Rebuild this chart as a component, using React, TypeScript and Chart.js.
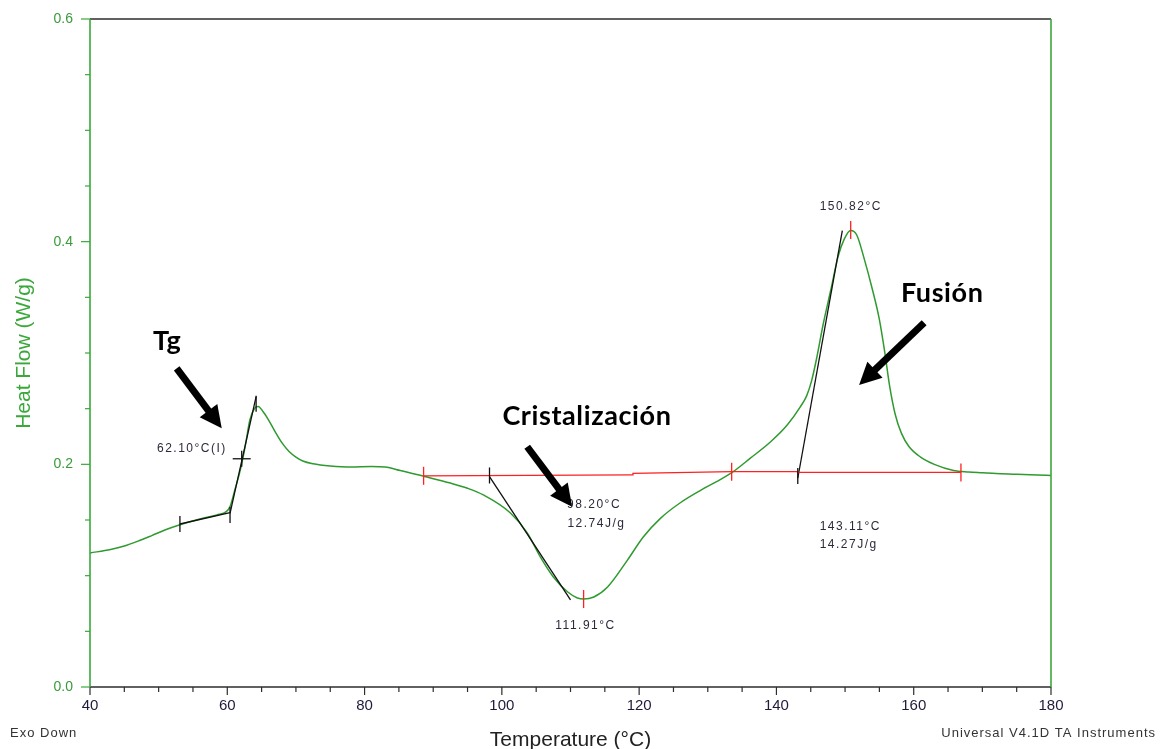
import { useEffect, useRef } from "react";
import { Chart, registerables } from "chart.js";

Chart.register(...registerables);

// DSC heating scan: temperature (°C) vs heat flow (W/g)
const temperature = [
  40.0, 43.0, 45.0, 47.0, 49.0, 51.0, 53.0, 56.0, 58.5, 59.9, 60.4, 61.1, 61.9, 62.6, 63.3, 64.0,
  64.5, 65.2, 66.0, 67.0, 68.0, 69.0, 70.0, 71.0, 72.5, 75.0, 78.0, 81.0, 83.0, 85.2, 88.6, 92.5,
  95.0, 97.3, 101.25, 103.7, 105.6, 107.5, 109.6, 111.0, 111.91, 113.4, 115.4, 118.3, 120.6, 123.1,
  126.0, 129.0, 131.5, 133.5, 136.2, 139.2, 141.6, 143.5, 144.4, 145.1, 145.8, 146.84, 147.92,
  148.98, 149.86, 150.82, 151.7, 152.7, 154.0, 155.0, 155.8, 156.5, 157.3, 158.2, 159.3, 161.0,
  163.0, 165.8, 168.0, 170.0, 172.0, 175.0, 178.0, 180.0,
];
const heatFlow = [
  0.1204, 0.1235, 0.1266, 0.131, 0.136, 0.1412, 0.1455, 0.1509, 0.1545, 0.1578, 0.162, 0.177, 0.195,
  0.216, 0.24, 0.2505, 0.252, 0.2475, 0.24, 0.229, 0.219, 0.2115, 0.2065, 0.203, 0.2005, 0.1985,
  0.1975, 0.198, 0.1975, 0.1945, 0.1893, 0.1832, 0.1785, 0.1725, 0.1563, 0.1383, 0.1168, 0.0988,
  0.0853, 0.08, 0.079, 0.0808, 0.0898, 0.114, 0.1347, 0.1515, 0.1655, 0.1768, 0.1852, 0.1925, 0.2055,
  0.2205, 0.2355, 0.2518, 0.2615, 0.2745, 0.2935, 0.3267, 0.3566, 0.3866, 0.402, 0.41, 0.406,
  0.3866, 0.3566, 0.33, 0.3, 0.27, 0.245, 0.228, 0.216, 0.2065, 0.2, 0.1945, 0.1932, 0.1925, 0.1918,
  0.1912, 0.1905, 0.19,
];

// Integration baselines (red)
const crystBaseT = [88.6, 119.0, 119.1, 133.48];
const crystBaseHF = [0.1897, 0.1905, 0.1918, 0.1934];
const meltBaseT = [133.48, 143.0, 143.1, 166.88];
const meltBaseHF = [0.1934, 0.1934, 0.1927, 0.1927];

// Tangent constructions (black)
const tgBaseT = [53.1, 60.4];
const tgBaseHF = [0.1464, 0.1566];
const tgSteepT = [60.4, 64.2];
const tgSteepHF = [0.156, 0.2608];
const crystTanT = [98.2, 110.0];
const crystTanHF = [0.189, 0.0782];
const meltTanT = [143.11, 149.6];
const meltTanHF = [0.1875, 0.41];

// Limit / peak markers
const redMarkT = [88.6, 133.48, 166.88, 111.91, 150.82];
const redMarkHF = [0.1897, 0.1934, 0.1927, 0.079, 0.4105];
const blackMarkT = [53.1, 60.4, 64.2, 98.2, 143.11];
const blackMarkHF = [0.1464, 0.1545, 0.2545, 0.19, 0.1895];
const inflectionT = 62.1;
const inflectionHF = 0.205;

// Result labels
const resultTexts = ["62.10°C(I)", "98.20°C", "12.74J/g", "111.91°C", "150.82°C", "143.11°C", "14.27J/g"];
const resultT = [59.93, 109.5, 109.55, 112.19, 150.83, 146.3, 146.3];
const resultHF = [0.2138, 0.1635, 0.1464, 0.0551, 0.4314, 0.144, 0.1275];
const resultAlign: CanvasTextAlign[] = ["right", "left", "left", "center", "center", "left", "left"];

// Transition names with arrows
const eventNames = ["Tg", "Cristalización", "Fusión"];
const eventNameT = [49.17, 100.08, 158.13];
const eventNameHF = [0.3027, 0.2353, 0.3458];
const arrowFromT = [52.63, 103.69, 161.52];
const arrowFromHF = [0.2862, 0.2158, 0.3272];
const arrowToT = [59.19, 110.24, 152.04];
const arrowToHF = [0.2324, 0.162, 0.2713];

const xTicks = [40, 60, 80, 100, 120, 140, 160, 180];
const yTicks = [0.0, 0.2, 0.4, 0.6];

const zip = (xs: number[], ys: number[]) => xs.map((v, i) => ({ x: v, y: ys[i] }));

const GREEN = "#2f9a2f";
const AXIS_GREEN = "#3aa83a";
const TEXT = "#2a2a3a";

const segment = (label: string, xs: number[], ys: number[], color: string) => ({
  label,
  data: zip(xs, ys),
  borderColor: color,
  borderWidth: 1.3,
  pointRadius: 0,
  tension: 0,
});

const decorations = {
  id: "decorations",
  afterDatasetsDraw(chart: any) {
    const { ctx, chartArea: a, scales } = chart;
    const x = scales.x;
    const y = scales.y;
    const px = (t: number) => x.getPixelForValue(t);
    const py = (v: number) => y.getPixelForValue(v);
    const line = (x1: number, y1: number, x2: number, y2: number) => {
      ctx.beginPath();
      ctx.moveTo(x1, y1);
      ctx.lineTo(x2, y2);
      ctx.stroke();
    };
    ctx.save();

    // frame
    ctx.lineWidth = 1.6;
    ctx.strokeStyle = "#2d2d2d";
    line(a.left, a.top, a.right, a.top);
    line(a.left, a.bottom, a.right, a.bottom);
    ctx.strokeStyle = AXIS_GREEN;
    line(a.left, a.top, a.left, a.bottom);
    line(a.right, a.top, a.right, a.bottom);

    // x tick marks (major every 20, minor every 5)
    ctx.lineWidth = 1.2;
    ctx.strokeStyle = "#2d2d2d";
    for (let t = 40; t <= 180; t += 5) {
      const len = t % 20 === 0 ? 8 : 5;
      line(px(t), a.bottom, px(t), a.bottom + len);
    }
    // y tick marks (major every 0.2, minor every 0.05)
    ctx.strokeStyle = AXIS_GREEN;
    for (let i = 0; i <= 12; i++) {
      const len = i % 4 === 0 ? 9 : 5;
      const yy = py(i * 0.05);
      line(a.left - len, yy, a.left, yy);
    }

    // markers
    ctx.lineWidth = 1.3;
    ctx.strokeStyle = "#ff2020";
    redMarkT.forEach((t, i) => {
      const cx = px(t);
      const cy = py(redMarkHF[i]);
      line(cx, cy - 9, cx, cy + 9);
    });
    ctx.strokeStyle = "#111";
    blackMarkT.forEach((t, i) => {
      const cx = px(t);
      const cy = py(blackMarkHF[i]);
      line(cx, cy - 8, cx, cy + 8);
    });
    const ix = px(inflectionT);
    const iy = py(inflectionHF);
    line(ix - 9, iy, ix + 9, iy);
    line(ix, iy - 8, ix, iy + 8);

    // result labels
    ctx.fillStyle = TEXT;
    ctx.font = '12px "Liberation Sans", Arial, sans-serif';
    ctx.textBaseline = "middle";
    (ctx as any).letterSpacing = "1.5px";
    resultTexts.forEach((s, i) => {
      ctx.textAlign = resultAlign[i];
      ctx.fillText(s, px(resultT[i]), py(resultHF[i]));
    });

    // arrows
    ctx.fillStyle = "#000";
    ctx.strokeStyle = "#000";
    arrowFromT.forEach((t, i) => {
      const x1 = px(t);
      const y1 = py(arrowFromHF[i]);
      const x2 = px(arrowToT[i]);
      const y2 = py(arrowToHF[i]);
      const ang = Math.atan2(y2 - y1, x2 - x1);
      const head = 22;
      const half = 11;
      const bx = x2 - head * Math.cos(ang);
      const by = y2 - head * Math.sin(ang);
      ctx.lineWidth = 7;
      ctx.lineCap = "butt";
      line(x1, y1, bx + 2 * Math.cos(ang), by + 2 * Math.sin(ang));
      ctx.beginPath();
      ctx.moveTo(x2, y2);
      ctx.lineTo(bx + half * Math.sin(ang), by - half * Math.cos(ang));
      ctx.lineTo(bx - half * Math.sin(ang), by + half * Math.cos(ang));
      ctx.closePath();
      ctx.fill();
    });

    // transition names
    (ctx as any).letterSpacing = "0.6px";
    ctx.font = 'bold 27px Lato, "Open Sans", sans-serif';
    ctx.textAlign = "left";
    ctx.textBaseline = "alphabetic";
    eventNames.forEach((s, i) => {
      ctx.fillText(s, px(eventNameT[i]), py(eventNameHF[i]));
    });

    // axis titles
    (ctx as any).letterSpacing = "0px";
    ctx.font = '21px "Liberation Sans", Arial, sans-serif';
    ctx.fillStyle = "#222";
    ctx.textAlign = "center";
    ctx.fillText("Temperature (°C)", (a.left + a.right) / 2, 746);
    ctx.save();
    ctx.translate(24, (a.top + a.bottom) / 2);
    ctx.rotate(-Math.PI / 2);
    ctx.fillStyle = AXIS_GREEN;
    ctx.textBaseline = "middle";
    ctx.fillText("Heat Flow (W/g)", 0, 0);
    ctx.restore();

    // footer notes
    ctx.font = '13px "Liberation Sans", Arial, sans-serif';
    ctx.fillStyle = "#333";
    ctx.textBaseline = "middle";
    (ctx as any).letterSpacing = "1px";
    ctx.textAlign = "left";
    ctx.fillText("Exo Down", 10, 733);
    ctx.textAlign = "right";
    ctx.fillText("Universal V4.1D TA Instruments", 1156, 733);
    ctx.restore();
  },
};

export default function App() {
  const canvasRef = useRef<HTMLCanvasElement | null>(null);

  useEffect(() => {
    if (!canvasRef.current) return;
    const chart = new Chart(canvasRef.current, {
      type: "line",
      data: {
        datasets: [
          segment("Crystallization baseline", crystBaseT, crystBaseHF, "#ff2020"),
          segment("Melting baseline", meltBaseT, meltBaseHF, "#ff2020"),
          segment("Tg baseline", tgBaseT, tgBaseHF, "#111"),
          segment("Tg tangent", tgSteepT, tgSteepHF, "#111"),
          segment("Crystallization tangent", crystTanT, crystTanHF, "#111"),
          segment("Melting tangent", meltTanT, meltTanHF, "#111"),
          {
            label: "Heat Flow",
            data: zip(temperature, heatFlow),
            borderColor: GREEN,
            borderWidth: 1.5,
            pointRadius: 0,
            cubicInterpolationMode: "monotone",
          },
        ],
      },
      options: {
        responsive: true,
        maintainAspectRatio: false,
        animation: false,
        layout: { padding: { top: 19, right: 115, left: 0, bottom: 0 } },
        plugins: { legend: { display: false }, tooltip: { enabled: false } },
        scales: {
          x: {
            type: "linear",
            min: 40,
            max: 180,
            afterFit: (s: any) => {
              s.height = 62;
              s.paddingLeft = 0;
              s.paddingRight = 0;
            },
            afterBuildTicks: (s: any) => {
              s.ticks = xTicks.map((v) => ({ value: v }));
            },
            grid: { display: false, drawTicks: false },
            border: { display: false },
            ticks: {
              padding: 10,
              color: "#221a3a",
              font: { family: '"Liberation Sans", Arial, sans-serif', size: 15 },
              callback: (v: any) => String(v),
            },
          },
          y: {
            type: "linear",
            min: 0,
            max: 0.6,
            afterFit: (s: any) => {
              s.width = 90;
              s.paddingTop = 0;
              s.paddingBottom = 0;
            },
            afterBuildTicks: (s: any) => {
              s.ticks = yTicks.map((v) => ({ value: v }));
            },
            grid: { display: false, drawTicks: false },
            border: { display: false },
            ticks: {
              padding: 17,
              color: "#3a9a3a",
              font: { family: '"Liberation Sans", Arial, sans-serif', size: 14 },
              callback: (v: any) => Number(v).toFixed(1),
            },
          },
        },
      },
      plugins: [decorations],
    } as any);
    return () => chart.destroy();
  }, []);

  return (
    <div style={{ position: "fixed", left: 0, top: 0, width: 1166, height: 749, background: "#fff" }}>
      <canvas ref={canvasRef} />
    </div>
  );
}
